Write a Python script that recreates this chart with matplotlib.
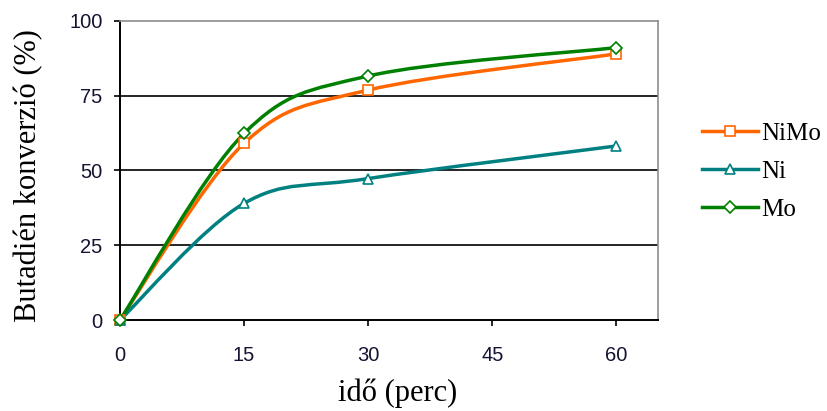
import numpy as np
import matplotlib
matplotlib.use("Agg")
import matplotlib.pyplot as plt
from matplotlib.path import Path
from matplotlib.patches import PathPatch
from matplotlib.lines import Line2D

# Reaction time (min) and butadiene conversion (%) per catalyst
time_min = [0, 15, 30, 60]
nimo = [0, 59.1, 76.9, 89.0]
ni = [0, 39.0, 47.3, 58.2]
mo = [0, 62.4, 81.6, 91.1]

series_names = ["NiMo", "Ni", "Mo"]
series_values = [nimo, ni, mo]
series_colors = ["#FF6600", "#008080", "#008000"]
series_markers = ["s", "^", "D"]
marker_sizes = [7.5, 7.5, 6.5]

x_ticks = [0, 15, 30, 45, 60]
y_ticks = [0, 25, 50, 75, 100]


def smooth_path(xs, ys):
    """Cubic Bezier path through the points (Catmull-Rom style tangents)."""
    pts = np.column_stack([xs, ys]).astype(float)
    n = len(pts)
    tangents = np.zeros_like(pts)
    for i in range(n):
        prev_p = pts[max(i - 1, 0)]
        next_p = pts[min(i + 1, n - 1)]
        tangents[i] = (next_p - prev_p) / 2.0
    verts = [tuple(pts[0])]
    codes = [Path.MOVETO]
    for i in range(n - 1):
        c1 = pts[i] + tangents[i] / 3.0
        c2 = pts[i + 1] - tangents[i + 1] / 3.0
        verts += [tuple(c1), tuple(c2), tuple(pts[i + 1])]
        codes += [Path.CURVE4] * 3
    return Path(verts, codes)


fig = plt.figure(figsize=(8.28, 4.11), dpi=100)
ax = fig.add_axes([120 / 828, 1 - 320 / 411, (657.7 - 120) / 828, (320 - 21) / 411])

ax.set_xlim(0, 65)
ax.set_ylim(0, 100)

# horizontal gridlines
for yv in y_ticks[1:-1]:
    ax.axhline(yv, color="black", lw=1.2, zorder=1)

for name, vals, col, mk, ms in zip(series_names, series_values, series_colors,
                                   series_markers, marker_sizes):
    patch = PathPatch(smooth_path(time_min, vals), fill=False, edgecolor=col,
                      lw=2.5, zorder=3, capstyle="butt", joinstyle="round")
    ax.add_patch(patch)
    ax.plot(time_min, vals, linestyle="none", marker=mk, markersize=ms,
            markerfacecolor="white", markeredgecolor=col, markeredgewidth=1.2,
            zorder=4, clip_on=False)

for s in ("left", "bottom"):
    ax.spines[s].set_color("black")
    ax.spines[s].set_linewidth(1.4)
for s in ("top", "right"):
    ax.spines[s].set_color("#8c8c8c")
    ax.spines[s].set_linewidth(1.2)

ax.set_xticks(x_ticks)
ax.set_yticks(y_ticks)
ax.tick_params(axis="both", direction="out", length=4.5, width=1.2, color="black",
               labelsize=14.5, labelcolor="#141432")
ax.tick_params(axis="x", pad=14)
ax.tick_params(axis="y", pad=8)
for lbl in ax.get_xticklabels() + ax.get_yticklabels():
    lbl.set_family("Liberation Sans")

fig.text(397.5 / 828, 1 - 393 / 411, "idő (perc)", family="Liberation Serif",
         fontsize=22, ha="center", va="center")
fig.text(29 / 828, 1 - 176 / 411, "Butadién konverzió (%)", family="Liberation Serif",
         fontsize=22, ha="center", va="center", rotation=90)

handles = [Line2D([], [], color=c, lw=2.5, marker=m, markersize=ms,
                  markerfacecolor="white", markeredgecolor=c, markeredgewidth=1.2)
           for c, m, ms in zip(series_colors, series_markers, marker_sizes)]
leg = fig.legend(handles, series_names, loc="upper left",
                 bbox_to_anchor=(702 / 828, 1 - 122 / 411), frameon=False,
                 prop={"family": "Liberation Serif", "size": 18},
                 handlelength=2.25, handletextpad=0.1, labelspacing=0.63,
                 borderpad=0, borderaxespad=0)

fig.savefig("out.png", dpi=100)
